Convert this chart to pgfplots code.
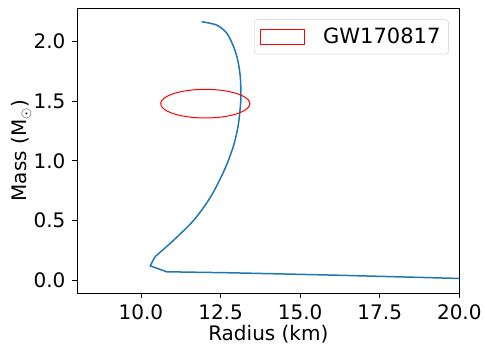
\documentclass[border=0pt]{standalone}
\usepackage{pgfplots}
\pgfplotsset{compat=1.18}
\usepackage{fontspec}
\setmainfont{DejaVu Sans}
\definecolor{mplblue}{HTML}{1F77B4}
\begin{document}
\fontsize{20}{24}\selectfont
\begin{tikzpicture}
\begin{axis}[
  name=ax,
  at={(0,0)}, anchor=south west,
  scale only axis, width=382pt, height=284.7pt,
  xmin=8, xmax=20, ymin=-0.108, ymax=2.28,
  xtick={10,12.5,15,17.5,20},
  ytick={0,0.5,1,1.5,2},
  xticklabel style={/pgf/number format/.cd, fixed, fixed zerofill, precision=1},
  yticklabel style={/pgf/number format/.cd, fixed, fixed zerofill, precision=1},
  /pgf/number format/assume math mode=true,
  tick align=outside, tickwidth=5pt,
  xtick pos=bottom, ytick pos=left,
  axis line style={line width=0.8pt},
  major tick style={line width=0.8pt, black},
  tick label style={font=\fontsize{20}{24}\selectfont},
  label style={font=\fontsize{20}{24}\selectfont},
  xlabel={Radius (km)},
  ylabel={Mass (M$_\odot$)},
  xlabel style={at={(axis description cs:0.5,-0.168)}, anchor=base},
  ylabel style={at={(axis description cs:-0.146,0.5)}, anchor=center},
  clip=true,
  legend style={at={(0.972,0.961)}, anchor=north east, draw=black!20, rounded corners=3pt,
    font=\fontsize{21}{25}\selectfont, inner xsep=6pt, inner ysep=6pt},
  legend cell align=left,
]
\addplot[mplblue, line width=1.5pt, smooth, tension=0.5, forget plot] coordinates {
(11.91,2.167) (12.38,2.139) (12.70,2.070) (12.91,1.957) (13.04,1.846) (13.12,1.706)
(13.14,1.552) (13.12,1.45) (13.05,1.29) (12.90,1.12) (12.62,0.923) (12.19,0.699)
(11.66,0.503) (11.03,0.336) (10.44,0.196)};
\addplot[mplblue, line width=1.5pt, forget plot] coordinates {
(10.44,0.196) (10.29,0.120) (10.81,0.070) (12.91,0.061) (16.05,0.042) (20.0,0.014) (25,0.005)};
\addplot[red, line width=1pt, smooth cycle, tension=0.5,
  legend image code/.code={\draw[red, line width=1pt, fill=white, sharp corners] (0pt,-7.3pt) rectangle (44pt,7.3pt); \path (60pt,0pt);}]
 coordinates {
(13.42,1.48) (13.372,1.511) (13.232,1.540) (13.010,1.565) (12.72,1.584) (12.382,1.596)
(12.02,1.60) (11.658,1.596) (11.32,1.584) (11.03,1.565) (10.808,1.540) (10.668,1.511)
(10.62,1.48) (10.668,1.449) (10.808,1.420) (11.03,1.395) (11.32,1.376) (11.658,1.364)
(12.02,1.36) (12.382,1.364) (12.72,1.376) (13.01,1.395) (13.232,1.420) (13.372,1.449)};
\addlegendentry{GW170817}
\end{axis}
\pgfresetboundingbox
\path[use as bounding box] (-77.3pt,-52pt) rectangle (407.7pt,293pt);
\end{tikzpicture}
\end{document}
